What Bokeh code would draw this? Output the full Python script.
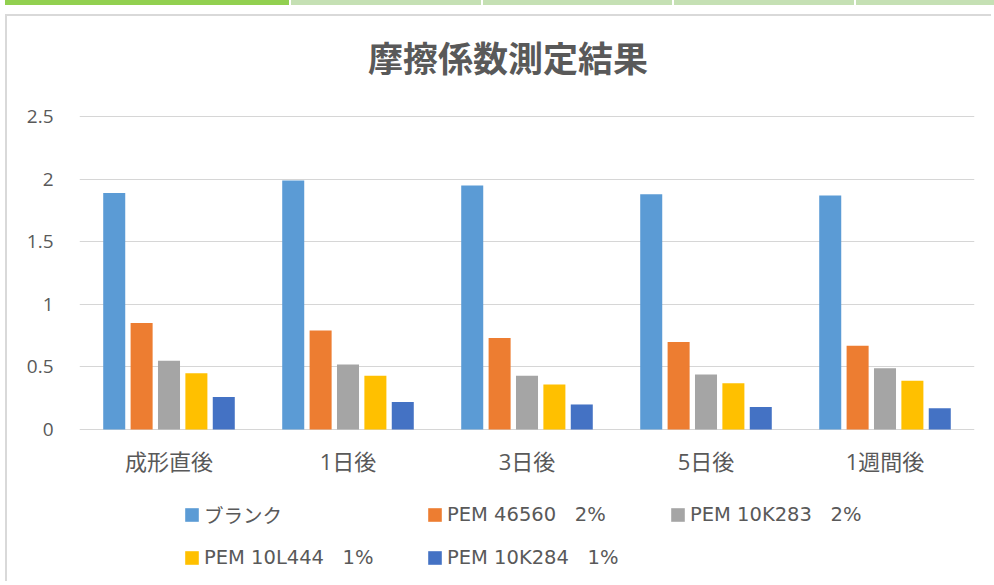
from bokeh.plotting import figure
from bokeh.models import (FactorRange, Range1d, Legend, LegendItem, FixedTicker,
                          Div, ColumnDataSource)
from bokeh.transform import dodge
from bokeh.layouts import column
from bokeh.core.properties import value
from bokeh.embed import file_html
from bokeh.resources import INLINE

# ---- data ----
categories = ["成形直後", "1日後", "3日後", "5日後", "1週間後"]
series_names = ["ブランク", "PEM 46560   2%", "PEM 10K283   2%",
                "PEM 10L444   1%", "PEM 10K284   1%"]
blank = [1.89, 1.99, 1.95, 1.88, 1.87]
pem_46560 = [0.85, 0.79, 0.73, 0.70, 0.67]
pem_10k283 = [0.55, 0.52, 0.43, 0.44, 0.49]
pem_10l444 = [0.45, 0.43, 0.36, 0.37, 0.39]
pem_10k284 = [0.26, 0.22, 0.20, 0.18, 0.17]
y_ticks = [0, 0.5, 1, 1.5, 2, 2.5]
y_tick_labels = ["0", "0.5", "1", "1.5", "2", "2.5"]
title_text = "摩擦係数測定結果"

colors = ["#5b9bd5", "#ed7d31", "#a5a5a5", "#ffc000", "#4472c4"]
FONT = "'Open Sans', 'Noto Sans CJK JP'"
LFONT = "'DejaVu Sans', 'Noto Sans CJK JP'"
TXT = "#595959"

source = ColumnDataSource(dict(cat=categories, base=[0] * len(categories),
                               s0=blank, s1=pem_46560, s2=pem_10k283,
                               s3=pem_10l444, s4=pem_10k284))

p = figure(width=986, height=567,
           x_range=FactorRange(factors=categories, range_padding=0),
           y_range=Range1d(-1.214, 3.283),
           x_axis_location=None,
           output_backend="svg", toolbar_location=None,
           min_border_left=72, min_border_right=19,
           min_border_top=2, min_border_bottom=2,
           outline_line_color=None, background_fill_color="white",
           border_fill_color="white", margin=(9, 0, 0, 5))
p.styles = {"border-left": "2px solid #d9d9d9", "border-top": "2px solid #d9d9d9"}

offsets = [-0.306, -0.153, 0.0, 0.153, 0.306]
renderers = []
for i, off in enumerate(offsets):
    r = p.vbar(x=dodge("cat", off, range=p.x_range), top="s%d" % i,
               width=0.123, source=source, fill_color=colors[i],
               line_color=None)
    renderers.append(r)

# chart title, centred over the middle category, above the top tick
p.text(x=[categories[2]], y=[y_ticks[-1]], text=[title_text],
       x_offset=-19, y_offset=-60, text_align="center", text_baseline="middle",
       text_font=value("Noto Sans CJK JP"), text_font_style="bold",
       text_font_size="35px", text_color=TXT)

# category labels under the baseline
p.text(x="cat", y="base", text="cat", source=source, y_offset=31,
       text_align="center", text_baseline="middle",
       text_font=value(FONT), text_font_size="22px", text_color=TXT)

p.yaxis.axis_line_color = None
p.yaxis.major_tick_line_color = None
p.yaxis.minor_tick_line_color = None
p.yaxis.ticker = FixedTicker(ticks=y_ticks)
p.yaxis.major_label_overrides = {t: l for t, l in zip(y_ticks, y_tick_labels)}
p.yaxis.major_label_text_font_size = "19px"
p.yaxis.major_label_text_font = FONT
p.yaxis.major_label_text_color = TXT
p.yaxis.major_label_standoff = 20

p.xgrid.grid_line_color = None
p.ygrid.grid_line_color = "#d6d6d6"
p.ygrid.grid_line_width = 1.2


def make_legend(idx, loc):
    return Legend(items=[LegendItem(label=value(series_names[i]), renderers=[renderers[i]])
                         for i in idx],
                  orientation="horizontal", location=loc,
                  glyph_width=17, glyph_height=17, label_standoff=4,
                  label_width=222, label_height=30, spacing=0, padding=0, margin=0,
                  border_line_color=None, background_fill_alpha=0,
                  label_text_font_size="19.5px", label_text_font=LFONT,
                  label_text_color=TXT)


p.add_layout(make_legend([0, 1, 2], (104, 52)))
p.add_layout(make_legend([3, 4], (104, 9)))

strip = Div(text="", width=994, height=5, margin=0, styles={
    "background": "linear-gradient(to right, #ffffff 0px 5px, #92d050 5px 289px, "
                  "#ffffff 289px 291px, #c5e0b4 291px 481px, #ffffff 481px 483px, "
                  "#c5e0b4 483px 672px, #ffffff 672px 674px, #c5e0b4 674px 854px, "
                  "#ffffff 854px 856px, #c5e0b4 856px 994px)"})

layout = column(strip, p, spacing=0)

open("out.html", "w").write(file_html(layout, INLINE))
